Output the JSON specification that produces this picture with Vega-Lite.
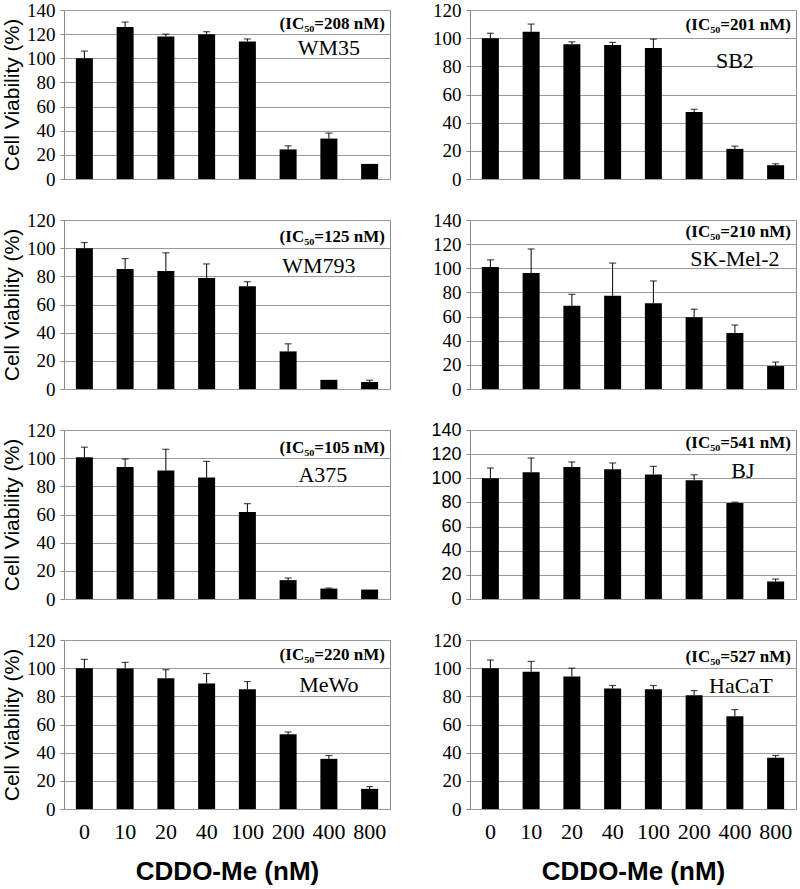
{
  "$schema": "https://vega.github.io/schema/vega-lite/v6.json",
  "background": "white",
  "padding": {"top": 0, "left": 0, "right": 0, "bottom": 0},
  "datasets": {
    "bars": [
      {"cell": "WM35", "dose": "0", "v": 100, "hi": 106},
      {"cell": "WM35", "dose": "10", "v": 126, "hi": 130},
      {"cell": "WM35", "dose": "20", "v": 118, "hi": 120},
      {"cell": "WM35", "dose": "40", "v": 120, "hi": 122},
      {"cell": "WM35", "dose": "100", "v": 114, "hi": 116},
      {"cell": "WM35", "dose": "200", "v": 24.5, "hi": 27.5},
      {"cell": "WM35", "dose": "400", "v": 33.5, "hi": 38},
      {"cell": "WM35", "dose": "800", "v": 12.5, "hi": null},
      {"cell": "SB2", "dose": "0", "v": 100, "hi": 103.5},
      {"cell": "SB2", "dose": "10", "v": 104.5, "hi": 110},
      {"cell": "SB2", "dose": "20", "v": 95.7, "hi": 97.4},
      {"cell": "SB2", "dose": "40", "v": 95.2, "hi": 97},
      {"cell": "SB2", "dose": "100", "v": 93, "hi": 99.3},
      {"cell": "SB2", "dose": "200", "v": 47.6, "hi": 49.5},
      {"cell": "SB2", "dose": "400", "v": 21.4, "hi": 23.3},
      {"cell": "SB2", "dose": "800", "v": 9.8, "hi": 10.8},
      {"cell": "WM793", "dose": "0", "v": 100, "hi": 104},
      {"cell": "WM793", "dose": "10", "v": 85.2, "hi": 92.6},
      {"cell": "WM793", "dose": "20", "v": 83.8, "hi": 96.7},
      {"cell": "WM793", "dose": "40", "v": 78.8, "hi": 88.8},
      {"cell": "WM793", "dose": "100", "v": 73, "hi": 76.2},
      {"cell": "WM793", "dose": "200", "v": 26.7, "hi": 32.1},
      {"cell": "WM793", "dose": "400", "v": 6.5, "hi": null},
      {"cell": "WM793", "dose": "800", "v": 5, "hi": 6.2},
      {"cell": "SK-Mel-2", "dose": "0", "v": 101, "hi": 107},
      {"cell": "SK-Mel-2", "dose": "10", "v": 96, "hi": 116},
      {"cell": "SK-Mel-2", "dose": "20", "v": 69, "hi": 78.4},
      {"cell": "SK-Mel-2", "dose": "40", "v": 77.2, "hi": 104.3},
      {"cell": "SK-Mel-2", "dose": "100", "v": 71.1, "hi": 89.5},
      {"cell": "SK-Mel-2", "dose": "200", "v": 59.4, "hi": 66.1},
      {"cell": "SK-Mel-2", "dose": "400", "v": 46.3, "hi": 53},
      {"cell": "SK-Mel-2", "dose": "800", "v": 19, "hi": 22.3},
      {"cell": "A375", "dose": "0", "v": 100.6, "hi": 107.8},
      {"cell": "A375", "dose": "10", "v": 93.8, "hi": 99.4},
      {"cell": "A375", "dose": "20", "v": 91.2, "hi": 106.3},
      {"cell": "A375", "dose": "40", "v": 86.2, "hi": 97.7},
      {"cell": "A375", "dose": "100", "v": 61.7, "hi": 67.7},
      {"cell": "A375", "dose": "200", "v": 13.4, "hi": 14.9},
      {"cell": "A375", "dose": "400", "v": 7.4, "hi": 7.8},
      {"cell": "A375", "dose": "800", "v": 6.7, "hi": null},
      {"cell": "BJ", "dose": "0", "v": 100, "hi": 108.5},
      {"cell": "BJ", "dose": "10", "v": 105, "hi": 116.8},
      {"cell": "BJ", "dose": "20", "v": 109.3, "hi": 113.5},
      {"cell": "BJ", "dose": "40", "v": 107.4, "hi": 112.7},
      {"cell": "BJ", "dose": "100", "v": 103.2, "hi": 109.9},
      {"cell": "BJ", "dose": "200", "v": 98.4, "hi": 102.9},
      {"cell": "BJ", "dose": "400", "v": 79.5, "hi": 80.2},
      {"cell": "BJ", "dose": "800", "v": 14.5, "hi": 16.5},
      {"cell": "MeWo", "dose": "0", "v": 100, "hi": 106.2},
      {"cell": "MeWo", "dose": "10", "v": 99.8, "hi": 104.1},
      {"cell": "MeWo", "dose": "20", "v": 92.9, "hi": 98.9},
      {"cell": "MeWo", "dose": "40", "v": 89.1, "hi": 96.2},
      {"cell": "MeWo", "dose": "100", "v": 85.1, "hi": 90.5},
      {"cell": "MeWo", "dose": "200", "v": 53, "hi": 54.7},
      {"cell": "MeWo", "dose": "400", "v": 35.6, "hi": 38},
      {"cell": "MeWo", "dose": "800", "v": 14.3, "hi": 15.9},
      {"cell": "HaCaT", "dose": "0", "v": 100, "hi": 105.8},
      {"cell": "HaCaT", "dose": "10", "v": 97.4, "hi": 104.8},
      {"cell": "HaCaT", "dose": "20", "v": 94.1, "hi": 100},
      {"cell": "HaCaT", "dose": "40", "v": 85.5, "hi": 87.7},
      {"cell": "HaCaT", "dose": "100", "v": 85.1, "hi": 87.7},
      {"cell": "HaCaT", "dose": "200", "v": 80.8, "hi": 84.1},
      {"cell": "HaCaT", "dose": "400", "v": 65.8, "hi": 70.6},
      {"cell": "HaCaT", "dose": "800", "v": 36.4, "hi": 38}
    ],
    "notes": [
      {"cell": "WM35", "ic": "(IC₅₀=208 nM)"},
      {"cell": "SB2", "ic": "(IC₅₀=201 nM)"},
      {"cell": "WM793", "ic": "(IC₅₀=125 nM)"},
      {"cell": "SK-Mel-2", "ic": "(IC₅₀=210 nM)"},
      {"cell": "A375", "ic": "(IC₅₀=105 nM)"},
      {"cell": "BJ", "ic": "(IC₅₀=541 nM)"},
      {"cell": "MeWo", "ic": "(IC₅₀=220 nM)"},
      {"cell": "HaCaT", "ic": "(IC₅₀=527 nM)"}
    ]
  },
  "columns": 2,
  "spacing": {"row": 41, "column": 80},
  "bounds": "flush",
  "concat": [
    {
      "width": 326, "height": 169,
      "data": {"name": "bars"},
      "transform": [{"filter": "datum.cell === 'WM35'"}],
      "encoding": {"x": {"field": "dose", "type": "ordinal", "scale": {"domain": ["0","10","20","40","100","200","400","800"]}, "axis": {"labels": false, "title": null}}},
      "layer": [
        {"mark": {"type": "bar", "color": "black", "size": 17}, "encoding": {"y": {"field": "v", "type": "quantitative", "scale": {"domain": [0, 140]}, "axis": {"values": [0,20,40,60,80,100,120,140], "title": "Cell Viability (%)", "labelFont": "Liberation Serif"}}}},
        {"transform": [{"filter": "isValid(datum.hi)"}], "mark": {"type": "rule", "color": "black", "strokeWidth": 1}, "encoding": {"y": {"field": "v", "type": "quantitative"}, "y2": {"field": "hi"}}},
        {"transform": [{"filter": "isValid(datum.hi)"}], "mark": {"type": "tick", "color": "black", "size": 7, "thickness": 1.2}, "encoding": {"y": {"field": "hi", "type": "quantitative"}}},
        {"data": {"name": "notes"}, "transform": [{"filter": "datum.cell === 'WM35'"}], "mark": {"type": "text", "align": "right", "baseline": "middle", "font": "Liberation Serif", "fontWeight": "bold", "fontSize": 17, "dx": -3}, "encoding": {"x": {"datum": "800", "bandPosition": 1}, "y": {"datum": 128, "type": "quantitative"}, "text": {"field": "ic"}}},
        {"data": {"name": "notes"}, "transform": [{"filter": "datum.cell === 'WM35'"}], "mark": {"type": "text", "align": "center", "baseline": "middle", "font": "Liberation Serif", "fontSize": 22}, "encoding": {"x": {"datum": "400"}, "y": {"datum": 108.5, "type": "quantitative"}, "text": {"field": "cell"}}}
      ]
    },
    {
      "width": 326, "height": 169,
      "data": {"name": "bars"},
      "transform": [{"filter": "datum.cell === 'SB2'"}],
      "encoding": {"x": {"field": "dose", "type": "ordinal", "scale": {"domain": ["0","10","20","40","100","200","400","800"]}, "axis": {"labels": false, "title": null}}},
      "layer": [
        {"mark": {"type": "bar", "color": "black", "size": 17}, "encoding": {"y": {"field": "v", "type": "quantitative", "scale": {"domain": [0, 120]}, "axis": {"values": [0,20,40,60,80,100,120], "title": null, "labelFont": "Liberation Serif"}}}},
        {"transform": [{"filter": "isValid(datum.hi)"}], "mark": {"type": "rule", "color": "black", "strokeWidth": 1}, "encoding": {"y": {"field": "v", "type": "quantitative"}, "y2": {"field": "hi"}}},
        {"transform": [{"filter": "isValid(datum.hi)"}], "mark": {"type": "tick", "color": "black", "size": 7, "thickness": 1.2}, "encoding": {"y": {"field": "hi", "type": "quantitative"}}},
        {"data": {"name": "notes"}, "transform": [{"filter": "datum.cell === 'SB2'"}], "mark": {"type": "text", "align": "right", "baseline": "middle", "font": "Liberation Serif", "fontWeight": "bold", "fontSize": 17, "dx": -3}, "encoding": {"x": {"datum": "800", "bandPosition": 1}, "y": {"datum": 109, "type": "quantitative"}, "text": {"field": "ic"}}},
        {"data": {"name": "notes"}, "transform": [{"filter": "datum.cell === 'SB2'"}], "mark": {"type": "text", "align": "center", "baseline": "middle", "font": "Liberation Serif", "fontSize": 22}, "encoding": {"x": {"datum": "400"}, "y": {"datum": 84, "type": "quantitative"}, "text": {"field": "cell"}}}
      ]
    },
    {
      "width": 326, "height": 169,
      "data": {"name": "bars"},
      "transform": [{"filter": "datum.cell === 'WM793'"}],
      "encoding": {"x": {"field": "dose", "type": "ordinal", "scale": {"domain": ["0","10","20","40","100","200","400","800"]}, "axis": {"labels": false, "title": null}}},
      "layer": [
        {"mark": {"type": "bar", "color": "black", "size": 17}, "encoding": {"y": {"field": "v", "type": "quantitative", "scale": {"domain": [0, 120]}, "axis": {"values": [0,20,40,60,80,100,120], "title": "Cell Viability (%)", "labelFont": "Liberation Serif"}}}},
        {"transform": [{"filter": "isValid(datum.hi)"}], "mark": {"type": "rule", "color": "black", "strokeWidth": 1}, "encoding": {"y": {"field": "v", "type": "quantitative"}, "y2": {"field": "hi"}}},
        {"transform": [{"filter": "isValid(datum.hi)"}], "mark": {"type": "tick", "color": "black", "size": 7, "thickness": 1.2}, "encoding": {"y": {"field": "hi", "type": "quantitative"}}},
        {"data": {"name": "notes"}, "transform": [{"filter": "datum.cell === 'WM793'"}], "mark": {"type": "text", "align": "right", "baseline": "middle", "font": "Liberation Serif", "fontWeight": "bold", "fontSize": 17, "dx": -3}, "encoding": {"x": {"datum": "800", "bandPosition": 1}, "y": {"datum": 108, "type": "quantitative"}, "text": {"field": "ic"}}},
        {"data": {"name": "notes"}, "transform": [{"filter": "datum.cell === 'WM793'"}], "mark": {"type": "text", "align": "center", "baseline": "middle", "font": "Liberation Serif", "fontSize": 22, "dx": -10}, "encoding": {"x": {"datum": "400"}, "y": {"datum": 87, "type": "quantitative"}, "text": {"field": "cell"}}}
      ]
    },
    {
      "width": 326, "height": 169,
      "data": {"name": "bars"},
      "transform": [{"filter": "datum.cell === 'SK-Mel-2'"}],
      "encoding": {"x": {"field": "dose", "type": "ordinal", "scale": {"domain": ["0","10","20","40","100","200","400","800"]}, "axis": {"labels": false, "title": null}}},
      "layer": [
        {"mark": {"type": "bar", "color": "black", "size": 17}, "encoding": {"y": {"field": "v", "type": "quantitative", "scale": {"domain": [0, 140]}, "axis": {"values": [0,20,40,60,80,100,120,140], "title": null, "labelFont": "Liberation Serif"}}}},
        {"transform": [{"filter": "isValid(datum.hi)"}], "mark": {"type": "rule", "color": "black", "strokeWidth": 1}, "encoding": {"y": {"field": "v", "type": "quantitative"}, "y2": {"field": "hi"}}},
        {"transform": [{"filter": "isValid(datum.hi)"}], "mark": {"type": "tick", "color": "black", "size": 7, "thickness": 1.2}, "encoding": {"y": {"field": "hi", "type": "quantitative"}}},
        {"data": {"name": "notes"}, "transform": [{"filter": "datum.cell === 'SK-Mel-2'"}], "mark": {"type": "text", "align": "right", "baseline": "middle", "font": "Liberation Serif", "fontWeight": "bold", "fontSize": 17, "dx": -3}, "encoding": {"x": {"datum": "800", "bandPosition": 1}, "y": {"datum": 130, "type": "quantitative"}, "text": {"field": "ic"}}},
        {"data": {"name": "notes"}, "transform": [{"filter": "datum.cell === 'SK-Mel-2'"}], "mark": {"type": "text", "align": "center", "baseline": "middle", "font": "Liberation Serif", "fontSize": 22}, "encoding": {"x": {"datum": "400"}, "y": {"datum": 108, "type": "quantitative"}, "text": {"field": "cell"}}}
      ]
    },
    {
      "width": 326, "height": 169,
      "data": {"name": "bars"},
      "transform": [{"filter": "datum.cell === 'A375'"}],
      "encoding": {"x": {"field": "dose", "type": "ordinal", "scale": {"domain": ["0","10","20","40","100","200","400","800"]}, "axis": {"labels": false, "title": null}}},
      "layer": [
        {"mark": {"type": "bar", "color": "black", "size": 17}, "encoding": {"y": {"field": "v", "type": "quantitative", "scale": {"domain": [0, 120]}, "axis": {"values": [0,20,40,60,80,100,120], "title": "Cell Viability (%)", "labelFont": "Liberation Serif"}}}},
        {"transform": [{"filter": "isValid(datum.hi)"}], "mark": {"type": "rule", "color": "black", "strokeWidth": 1}, "encoding": {"y": {"field": "v", "type": "quantitative"}, "y2": {"field": "hi"}}},
        {"transform": [{"filter": "isValid(datum.hi)"}], "mark": {"type": "tick", "color": "black", "size": 7, "thickness": 1.2}, "encoding": {"y": {"field": "hi", "type": "quantitative"}}},
        {"data": {"name": "notes"}, "transform": [{"filter": "datum.cell === 'A375'"}], "mark": {"type": "text", "align": "right", "baseline": "middle", "font": "Liberation Serif", "fontWeight": "bold", "fontSize": 17, "dx": -3}, "encoding": {"x": {"datum": "800", "bandPosition": 1}, "y": {"datum": 107, "type": "quantitative"}, "text": {"field": "ic"}}},
        {"data": {"name": "notes"}, "transform": [{"filter": "datum.cell === 'A375'"}], "mark": {"type": "text", "align": "center", "baseline": "middle", "font": "Liberation Serif", "fontSize": 22, "dx": -6}, "encoding": {"x": {"datum": "400"}, "y": {"datum": 88, "type": "quantitative"}, "text": {"field": "cell"}}}
      ]
    },
    {
      "width": 326, "height": 169,
      "data": {"name": "bars"},
      "transform": [{"filter": "datum.cell === 'BJ'"}],
      "encoding": {"x": {"field": "dose", "type": "ordinal", "scale": {"domain": ["0","10","20","40","100","200","400","800"]}, "axis": {"labels": false, "title": null}}},
      "layer": [
        {"mark": {"type": "bar", "color": "black", "size": 17}, "encoding": {"y": {"field": "v", "type": "quantitative", "scale": {"domain": [0, 140]}, "axis": {"values": [0,20,40,60,80,100,120,140], "title": null, "labelFont": "Liberation Sans", "labelFontSize": 18}}}},
        {"transform": [{"filter": "isValid(datum.hi)"}], "mark": {"type": "rule", "color": "black", "strokeWidth": 1}, "encoding": {"y": {"field": "v", "type": "quantitative"}, "y2": {"field": "hi"}}},
        {"transform": [{"filter": "isValid(datum.hi)"}], "mark": {"type": "tick", "color": "black", "size": 7, "thickness": 1.2}, "encoding": {"y": {"field": "hi", "type": "quantitative"}}},
        {"data": {"name": "notes"}, "transform": [{"filter": "datum.cell === 'BJ'"}], "mark": {"type": "text", "align": "right", "baseline": "middle", "font": "Liberation Serif", "fontWeight": "bold", "fontSize": 17, "dx": -3}, "encoding": {"x": {"datum": "800", "bandPosition": 1}, "y": {"datum": 129, "type": "quantitative"}, "text": {"field": "ic"}}},
        {"data": {"name": "notes"}, "transform": [{"filter": "datum.cell === 'BJ'"}], "mark": {"type": "text", "align": "center", "baseline": "middle", "font": "Liberation Serif", "fontSize": 22, "dx": 8}, "encoding": {"x": {"datum": "400"}, "y": {"datum": 106, "type": "quantitative"}, "text": {"field": "cell"}}}
      ]
    },
    {
      "width": 326, "height": 169,
      "data": {"name": "bars"},
      "transform": [{"filter": "datum.cell === 'MeWo'"}],
      "encoding": {"x": {"field": "dose", "type": "ordinal", "scale": {"domain": ["0","10","20","40","100","200","400","800"]}, "axis": {"labelAngle": 0, "title": "CDDO-Me (nM)", "labelFont": "Liberation Serif"}}},
      "layer": [
        {"mark": {"type": "bar", "color": "black", "size": 17}, "encoding": {"y": {"field": "v", "type": "quantitative", "scale": {"domain": [0, 120]}, "axis": {"values": [0,20,40,60,80,100,120], "title": "Cell Viability (%)", "labelFont": "Liberation Serif"}}}},
        {"transform": [{"filter": "isValid(datum.hi)"}], "mark": {"type": "rule", "color": "black", "strokeWidth": 1}, "encoding": {"y": {"field": "v", "type": "quantitative"}, "y2": {"field": "hi"}}},
        {"transform": [{"filter": "isValid(datum.hi)"}], "mark": {"type": "tick", "color": "black", "size": 7, "thickness": 1.2}, "encoding": {"y": {"field": "hi", "type": "quantitative"}}},
        {"data": {"name": "notes"}, "transform": [{"filter": "datum.cell === 'MeWo'"}], "mark": {"type": "text", "align": "right", "baseline": "middle", "font": "Liberation Serif", "fontWeight": "bold", "fontSize": 17, "dx": -3}, "encoding": {"x": {"datum": "800", "bandPosition": 1}, "y": {"datum": 109, "type": "quantitative"}, "text": {"field": "ic"}}},
        {"data": {"name": "notes"}, "transform": [{"filter": "datum.cell === 'MeWo'"}], "mark": {"type": "text", "align": "center", "baseline": "middle", "font": "Liberation Serif", "fontSize": 22}, "encoding": {"x": {"datum": "400"}, "y": {"datum": 88, "type": "quantitative"}, "text": {"field": "cell"}}}
      ]
    },
    {
      "width": 326, "height": 169,
      "data": {"name": "bars"},
      "transform": [{"filter": "datum.cell === 'HaCaT'"}],
      "encoding": {"x": {"field": "dose", "type": "ordinal", "scale": {"domain": ["0","10","20","40","100","200","400","800"]}, "axis": {"labelAngle": 0, "title": "CDDO-Me (nM)", "labelFont": "Liberation Serif"}}},
      "layer": [
        {"mark": {"type": "bar", "color": "black", "size": 17}, "encoding": {"y": {"field": "v", "type": "quantitative", "scale": {"domain": [0, 120]}, "axis": {"values": [0,20,40,60,80,100,120], "title": null, "labelFont": "Liberation Serif"}}}},
        {"transform": [{"filter": "isValid(datum.hi)"}], "mark": {"type": "rule", "color": "black", "strokeWidth": 1}, "encoding": {"y": {"field": "v", "type": "quantitative"}, "y2": {"field": "hi"}}},
        {"transform": [{"filter": "isValid(datum.hi)"}], "mark": {"type": "tick", "color": "black", "size": 7, "thickness": 1.2}, "encoding": {"y": {"field": "hi", "type": "quantitative"}}},
        {"data": {"name": "notes"}, "transform": [{"filter": "datum.cell === 'HaCaT'"}], "mark": {"type": "text", "align": "right", "baseline": "middle", "font": "Liberation Serif", "fontWeight": "bold", "fontSize": 17, "dx": -3}, "encoding": {"x": {"datum": "800", "bandPosition": 1}, "y": {"datum": 108, "type": "quantitative"}, "text": {"field": "ic"}}},
        {"data": {"name": "notes"}, "transform": [{"filter": "datum.cell === 'HaCaT'"}], "mark": {"type": "text", "align": "center", "baseline": "middle", "font": "Liberation Serif", "fontSize": 22, "dx": 6}, "encoding": {"x": {"datum": "400"}, "y": {"datum": 87, "type": "quantitative"}, "text": {"field": "cell"}}}
      ]
    }
  ],
  "config": {
    "view": {"stroke": "#8a8a8a", "strokeWidth": 1},
    "axis": {
      "domain": false,
      "ticks": true,
      "tickSize": 4,
      "tickColor": "#8a8a8a",
      "grid": true,
      "gridColor": "#9a9a9a",
      "gridOpacity": 1,
      "labelFont": "Liberation Serif",
      "labelFontSize": 19,
      "labelColor": "black",
      "labelPadding": 5,
      "labelOverlap": false,
      "titleColor": "black"
    },
    "axisY": {
      "titleFont": "Liberation Sans",
      "titleFontSize": 21,
      "titleFontWeight": "normal",
      "titlePadding": 4,
      "tickCount": 8,
      "labelOverlap": false
    },
    "axisX": {
      "grid": false,
      "ticks": false,
      "labelFontSize": 22,
      "labelPadding": 12,
      "titleFont": "Liberation Sans",
      "titleFontSize": 26,
      "titleFontWeight": "bold",
      "titlePadding": 16
    }
  }
}
